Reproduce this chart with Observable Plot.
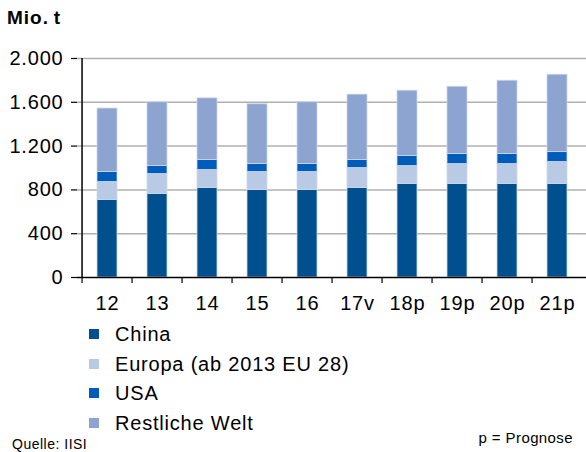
<!DOCTYPE html>
<html><head><meta charset="utf-8">
<script src="https://cdn.jsdelivr.net/npm/d3@7"></script>
<script src="https://cdn.jsdelivr.net/npm/@observablehq/plot@0.6"></script>
<style>
body{margin:0;background:#fff;font-family:"Liberation Sans",Arial,sans-serif;color:#000;}
#wrap{position:relative;width:586px;height:452px;overflow:hidden;background:#fff;}
#title{position:absolute;left:7px;top:7px;font-weight:bold;font-size:19px;letter-spacing:1px;line-height:22px;}
#chart{position:absolute;left:0;top:40px;}
#chart svg text{letter-spacing:0.8px;}
.leg{position:absolute;left:89px;font-size:20px;letter-spacing:0.8px;line-height:22px;height:22px;display:flex;align-items:center;white-space:nowrap;}
.leg span.sw{display:inline-block;width:10px;height:10px;margin-right:16px;}
#prog{position:absolute;right:13px;top:429px;font-size:15px;letter-spacing:0.4px;line-height:18px;}
#src{position:absolute;left:12px;top:436px;font-size:14px;letter-spacing:0.5px;line-height:16px;}
</style></head>
<body><div id="wrap">
<div id="title">Mio.&#8201;t</div>
<div id="chart"></div>
<div id="legend"></div>
<div id="prog">p = Prognose</div>
<div id="src">Quelle: IISI</div>
</div>
<script>
const years = ["12","13","14","15","16","17v","18p","19p","20p","21p"];
const china  = [709,764,818,800,800,818,855,855,855,855];
const europa = [164,181,164,164,164,182,163,181,181,200];
const usa    = [91,73,91,72,72,73,91,91,91,90];
const rest   = [579,582,563,546,564,597,597,615,670,707];
const seriesNames = ["China","Europa (ab 2013 EU 28)","USA","Restliche Welt"];
const seriesColors = ["#00508f","#b9cae5","#005cb9","#8ca4cf"];
const yTicks = [0,400,800,1200,1600,2000];

const seriesValues = [china, europa, usa, rest];
const data = [];
years.forEach((y, i) => {
  seriesNames.forEach((s, k) => data.push({year: y, series: s, value: seriesValues[k][i]}));
});

const de = d3.formatLocale({decimal: ",", thousands: ".", grouping: [3], currency: ["", " €"]});
const fmt = de.format(",");

const W = 586, ML = 77, MR = 0;
const step = (W - ML - MR) / years.length;

const chart = Plot.plot({
  width: W, height: 285,
  marginLeft: ML, marginRight: MR, marginTop: 18, marginBottom: 48,
  style: {fontFamily: '"Liberation Sans", Arial, sans-serif', fontSize: "20px", color: "#000", background: "#fff"},
  x: {domain: years, paddingInner: 0.6, paddingOuter: 0.3, label: null},
  y: {domain: [0, 2000], label: null},
  color: {domain: seriesNames, range: seriesColors},
  marks: [
    Plot.ruleY(yTicks.filter(d => d > 0), {stroke: "#b0b0b0", strokeWidth: 1.5}),
    Plot.barY(data, {x: "year", y: "value", fill: "series", stroke: "#cdd8ec", strokeWidth: 0.8, order: null}),
    Plot.ruleY([0], {stroke: "#000", strokeWidth: 1.5}),
    Plot.ruleX([years[0]], {dx: -step / 2, y1: 0, y2: 2000, stroke: "#000", strokeWidth: 1.5}),
    Plot.axisX({tickSize: 6, tickFormat: () => "", dx: -step / 2, label: null, strokeWidth: 1.2}),
    Plot.axisX({tickSize: 0, tickPadding: 18, fontSize: 20, label: null}),
    Plot.axisY({ticks: yTicks, tickSize: 6, tickPadding: 8, fontSize: 20, tickFormat: fmt, label: null, strokeWidth: 1.2})
  ]
});
document.getElementById("chart").appendChild(chart);

const legend = document.getElementById("legend");
const rowY = [334, 364, 393, 423];
seriesNames.forEach((s, k) => {
  const d = document.createElement("div");
  d.className = "leg";
  d.style.top = (rowY[k] - 11) + "px";
  const sw = document.createElement("span");
  sw.className = "sw";
  sw.style.background = seriesColors[k];
  d.appendChild(sw);
  d.appendChild(document.createTextNode(s));
  legend.appendChild(d);
});
</script>
</body></html>
